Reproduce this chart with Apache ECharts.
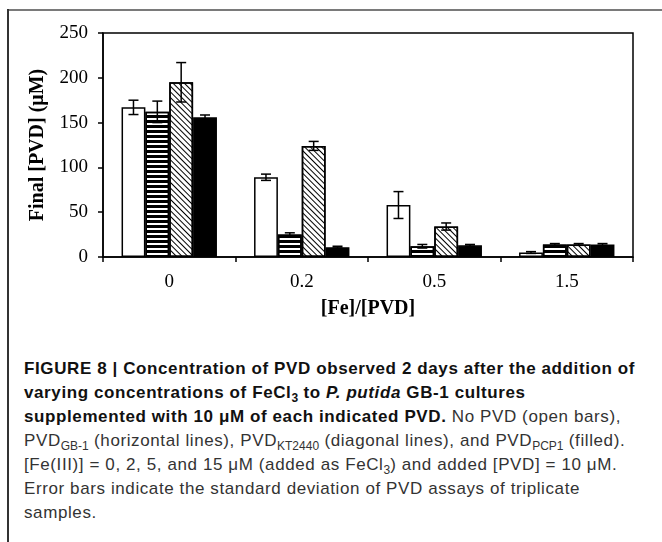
<!DOCTYPE html>
<html>
<head>
<meta charset="utf-8">
<script src="https://cdn.jsdelivr.net/npm/echarts@6/dist/echarts.min.js"></script>
<style>
  html, body { margin: 0; padding: 0; background: #fff; }
  #page { position: relative; width: 662px; height: 542px; overflow: hidden; }
  #frameTop { position: absolute; left: 8px; top: 9px; width: 654px; height: 2px; background: #7a7a7a; }
  #frameLeft { position: absolute; left: 7px; top: 9px; width: 2px; height: 533px; background: #333; }
  #chart { position: absolute; left: 0; top: 0; width: 662px; height: 350px; }
  #caption {
    position: absolute; left: 24px; top: 357px;
    font-family: "Liberation Sans", sans-serif;
    font-size: 17px; line-height: 24px; letter-spacing: 0.6px; color: #333; white-space: nowrap;
  }
  #caption b { color: #111; }
  #caption sub { font-size: 12px; vertical-align: -4px; line-height: 0; letter-spacing: 0; }
</style>
</head>
<body>
<div id="page">
  <div id="frameTop"></div>
  <div id="frameLeft"></div>
  <div id="chart"></div>
  <div id="caption">
    <b>FIGURE 8 | Concentration of PVD observed 2 days after the addition of</b><br>
    <b>varying concentrations of FeCl<sub>3</sub> to <i>P. putida</i> GB-1 cultures</b><br>
    <b>supplemented with 10 μM of each indicated PVD.</b> No PVD (open bars),<br>
    PVD<sub>GB-1</sub> (horizontal lines), PVD<sub>KT2440</sub> (diagonal lines), and PVD<sub>PCP1</sub> (filled).<br>
    [Fe(III)] = 0, 2, 5, and 15 μM (added as FeCl<sub>3</sub>) and added [PVD] = 10 μM.<br>
    Error bars indicate the standard deviation of PVD assays of triplicate<br>
    samples.
  </div>
</div>
<script>
// [Fe]/[PVD] ratios
const categories = ['0', '0.2', '0.5', '1.5'];
const yTicks = [0, 50, 100, 150, 200, 250];

// final PVD (uM) and standard deviations
const noPvd = [167, 89, 58, 5];
const noPvdErr = [8, 3.5, 15, 1];
const pvdGB1 = [162, 25, 12, 14];
const pvdGB1Err = [12, 2, 2, 1];
const pvdKT2440 = [195, 124, 34, 14];
const pvdKT2440Err = [22, 5, 4, 1];
const pvdPCP1 = [156, 11, 13, 14];
const pvdPCP1Err = [2.5, 1, 1, 1];

const seriesVals = [noPvd, pvdGB1, pvdKT2440, pvdPCP1];
const seriesErrs = [noPvdErr, pvdGB1Err, pvdKT2440Err, pvdPCP1Err];
const seriesNames = ['No PVD', 'PVD GB-1', 'PVD KT2440', 'PVD PCP1'];

const catGap = 0.28;

const barStyles = [
  { color: '#fff', borderColor: '#000', borderWidth: 1.5 },
  { color: '#fff', borderColor: '#000', borderWidth: 1.5,
    decal: { symbol: 'rect', symbolSize: 1, dashArrayX: [1, 0], dashArrayY: [3, 2], rotation: 0, color: '#000' } },
  { color: '#fff', borderColor: '#000', borderWidth: 1.5,
    decal: { symbol: 'rect', symbolSize: 1, dashArrayX: [1, 0], dashArrayY: [1, 3], rotation: Math.PI / 4, color: '#000' } },
  { color: '#000', borderColor: '#000', borderWidth: 1.5 }
];

function errorSeries(k) {
  return {
    type: 'custom',
    z: 5,
    data: seriesVals[k].map((v, i) => [i, v, seriesErrs[k][i]]),
    renderItem: function (params, api) {
      const idx = api.value(0);
      const v = api.value(1);
      const e = api.value(2);
      const band = api.size([1, 0])[0];
      const barW = band * (1 - catGap) / 4;
      const dx = (k - 1.5) * barW;
      const hi = api.coord([idx, v + e]);
      const lo = api.coord([idx, v - e]);
      const x = hi[0] + dx;
      const cap = 5;
      const st = { stroke: '#000', lineWidth: 1.5 };
      return {
        type: 'group',
        children: [
          { type: 'line', shape: { x1: x, y1: hi[1], x2: x, y2: lo[1] }, style: st },
          { type: 'line', shape: { x1: x - cap, y1: hi[1], x2: x + cap, y2: hi[1] }, style: st },
          { type: 'line', shape: { x1: x - cap, y1: lo[1], x2: x + cap, y2: lo[1] }, style: st }
        ]
      };
    }
  };
}

const chart = echarts.init(document.getElementById('chart'));
const serif = '"Liberation Serif", "Times New Roman", serif';

const series = seriesVals.map((vals, k) => ({
  name: seriesNames[k],
  type: 'bar',
  data: vals,
  barGap: '0%',
  barCategoryGap: (catGap * 100) + '%',
  itemStyle: barStyles[k],
  emphasis: { disabled: true }
}));
for (let k = 0; k < 4; k++) series.push(errorSeries(k));

chart.setOption({
  animation: false,
  grid: {
    left: 103, right: 29, top: 33, height: 224,
    show: true, borderColor: '#000', borderWidth: 1.5, backgroundColor: 'transparent'
  },
  xAxis: {
    type: 'category',
    data: categories,
    name: '[Fe]/[PVD]',
    nameLocation: 'middle',
    nameGap: 42,
    nameTextStyle: { fontFamily: serif, fontWeight: 'bold', fontSize: 20, color: '#000' },
    axisLine: { lineStyle: { color: '#000', width: 1.5 } },
    axisTick: { show: true, length: 5, lineStyle: { color: '#000', width: 1.5 } },
    axisLabel: { fontFamily: serif, fontSize: 19, color: '#000', margin: 16 },
    splitLine: { show: false }
  },
  yAxis: {
    type: 'value',
    min: yTicks[0],
    max: yTicks[yTicks.length - 1],
    interval: 50,
    name: 'Final [PVD] (μM)',
    nameLocation: 'middle',
    nameGap: 55,
    nameTextStyle: { fontFamily: serif, fontWeight: 'bold', fontSize: 20, color: '#000' },
    axisLine: { show: true, lineStyle: { color: '#000', width: 1.5 } },
    axisTick: { show: true, length: 5, lineStyle: { color: '#000', width: 1.5 } },
    axisLabel: { fontFamily: serif, fontSize: 19, color: '#000', margin: 15 },
    splitLine: { show: false }
  },
  series: series
});
</script>
</body>
</html>
